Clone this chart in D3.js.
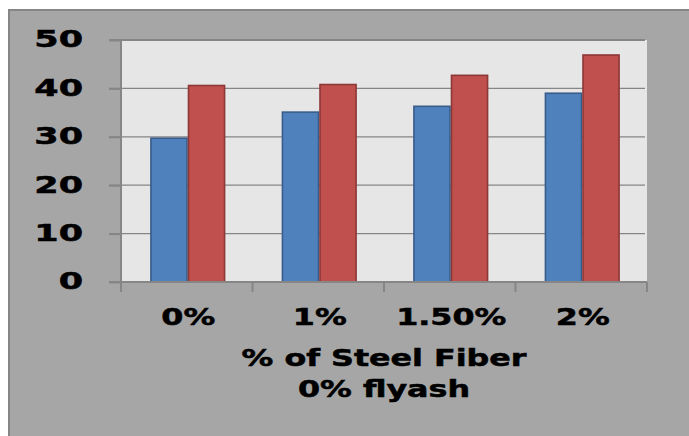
<!DOCTYPE html>
<html>
<head>
<meta charset="utf-8">
<script src="https://cdn.jsdelivr.net/npm/d3@7"></script>
<style>
  html, body { margin: 0; padding: 0; background: #ffffff; overflow: hidden; }
  svg { display: block; }
  text { font-family: "DejaVu Sans", Verdana, sans-serif; font-weight: bold; fill: #000; stroke: #000; stroke-width: 0.5px; }
</style>
</head>
<body>
<svg id="chart" width="689" height="436"></svg>
<script>
// Compressive strength by steel fibre content (0% fly ash)
const categories = ["0%", "1%", "1.50%", "2%"];
const seriesNames = ["Series A", "Series B"];
const seriesA = [29.7, 35.1, 36.3, 39.0];
const seriesB = [40.6, 40.8, 42.7, 46.9];
const yTicks = [0, 10, 20, 30, 40, 50];
const axisTitleLines = ["% of Steel Fiber", "0% flyash"];

const fills = ["#4f81bd", "#c0504d"];
const strokes = ["#385d8a", "#8c3836"];

const svg = d3.select("#chart");
const W = 689, H = 436;
const plot = { left: 121, right: 647, top: 40, bottom: 282 };

// chart frame (continues past the right and bottom edges)
svg.append("rect")
  .attr("x", 9).attr("y", 10)
  .attr("width", W + 40).attr("height", H + 40)
  .attr("fill", "#a6a6a6")
  .attr("stroke", "#868686").attr("stroke-width", 2);

// plot area
svg.append("rect")
  .attr("x", plot.left).attr("y", plot.top)
  .attr("width", plot.right - plot.left).attr("height", plot.bottom - plot.top)
  .attr("fill", "#e6e6e6");

const x0 = d3.scaleBand().domain(categories).range([plot.left, plot.right]).padding(0);
const x1 = d3.scaleBand().domain(seriesNames).range([0, x0.bandwidth()])
  .paddingInner(0).paddingOuter(0.75);
const y = d3.scaleLinear().domain([0, 50]).range([plot.bottom, plot.top]);

// gridlines
svg.append("g")
  .selectAll("line")
  .data(yTicks.filter(t => t > 0))
  .join("line")
  .attr("x1", plot.left - 12).attr("x2", plot.right - 2)
  .attr("y1", d => y(d)).attr("y2", d => y(d))
  .attr("stroke", "#868686")
  .attr("stroke-width", d => d === 50 ? 2 : 1.2);

// bars
const rows = categories.map((c, i) => ({ cat: c, values: [seriesA[i], seriesB[i]] }));
const groups = svg.append("g")
  .selectAll("g")
  .data(rows)
  .join("g")
  .attr("transform", d => `translate(${x0(d.cat) + 1},0)`);

groups.selectAll("rect")
  .data(d => d.values.map((v, k) => ({ key: seriesNames[k], k, v })))
  .join("rect")
  .attr("x", d => x1(d.key) + 0.75)
  .attr("y", d => y(d.v))
  .attr("width", x1.bandwidth() - 1.5)
  .attr("height", d => y(0) - y(d.v))
  .attr("fill", d => fills[d.k])
  .attr("stroke", d => strokes[d.k])
  .attr("stroke-width", 1.6);

// y axis
const yAxis = svg.append("g")
  .attr("transform", `translate(${plot.left},0)`)
  .call(d3.axisLeft(y).tickValues(yTicks).tickSize(12).tickPadding(0).tickFormat(d3.format("d")));
yAxis.select(".domain").remove();
yAxis.selectAll(".tick line").attr("stroke", "#868686").attr("stroke-width", 2);
yAxis.selectAll(".tick text")
  .attr("x", 0)
  .attr("dy", "0.30em")
  .attr("font-size", 23)
  .attr("text-anchor", "end")
  .attr("transform", "translate(-38,0) scale(1.52,1)");

// x axis
const xAxis = svg.append("g")
  .attr("transform", `translate(0,${plot.bottom})`)
  .call(d3.axisBottom(x0).tickSize(0).tickPadding(0));
xAxis.select(".domain").remove();
xAxis.selectAll(".tick text")
  .attr("y", 0)
  .attr("dy", 0)
  .attr("font-size", 23)
  .attr("text-anchor", "middle")
  .attr("transform", "translate(1.5,43) scale(1.38,1)");

// category boundary ticks
const bounds = categories.map(c => x0(c)).concat([x0(categories[categories.length - 1]) + x0.bandwidth()]);
svg.append("g")
  .selectAll("line")
  .data(bounds)
  .join("line")
  .attr("x1", d => d).attr("x2", d => d)
  .attr("y1", plot.bottom).attr("y2", plot.bottom + 10)
  .attr("stroke", "#868686").attr("stroke-width", 2);

// axis lines
svg.append("line")
  .attr("x1", plot.left).attr("x2", plot.left)
  .attr("y1", plot.top).attr("y2", plot.bottom + 10)
  .attr("stroke", "#868686").attr("stroke-width", 2);
svg.append("line")
  .attr("x1", plot.left - 12).attr("x2", plot.right)
  .attr("y1", plot.bottom).attr("y2", plot.bottom)
  .attr("stroke", "#868686").attr("stroke-width", 2);

// axis title
const cx = (plot.left + plot.right) / 2;
svg.append("g")
  .selectAll("text")
  .data(axisTitleLines)
  .join("text")
  .attr("font-size", 23)
  .attr("text-anchor", "middle")
  .attr("transform", (d, i) => `translate(${cx},${366 + i * 31}) scale(1.38,1)`)
  .text(d => d);
</script>
</body>
</html>
